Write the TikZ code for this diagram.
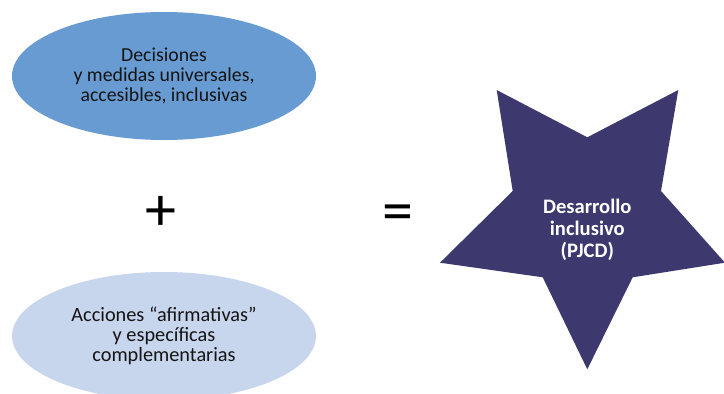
\documentclass[tikz,border=0pt]{standalone}
\usepackage{fontspec}
\setmainfont{Carlito}
\definecolor{topblue}{RGB}{104,155,210}
\definecolor{lightblue}{RGB}{199,213,237}
\definecolor{starfill}{RGB}{61,57,110}
\definecolor{txt}{RGB}{20,20,20}
\tikzset{
  ellbox/.style={ellipse, minimum width=304pt, minimum height=128pt, inner sep=0pt, draw=none},
  elltext/.style={text=txt, align=center, font=\fontsize{19.8}{20}\selectfont},
  elltextb/.style={text=txt, align=center, font=\fontsize{20.3}{19.7}\selectfont},
  startext/.style={text=white, align=center, font=\fontsize{20.6}{21.7}\selectfont\bfseries},
  symbol/.style={text=black, font=\fontsize{62}{62}\selectfont, inner sep=0pt}
}
\usetikzlibrary{shapes.geometric}
\begin{document}
\begin{tikzpicture}[x=1pt,y=-1pt]
\useasboundingbox (0,0) rectangle (724,394);
\begin{scope}
\clip (0,0) rectangle (724,394);
\node[ellbox, fill=topblue] (top) at (164,76) {};
\node[ellbox, fill=lightblue] (bot) at (164,336) {};
\end{scope}
\node[elltext] (toptext) at (164,76) {Decisiones\\y medidas universales,\\accesibles, inclusivas};
\node[elltextb] (bottext) at (164,336) {Acciones “afirmativas”\\y específicas\\complementarias};
\fill[starfill] (496.7,90) -- (587.3,137.3) -- (678.3,90) -- (661,191) -- (725,262.7) -- (632.7,277.3) -- (587.3,369.3) -- (542.7,277.3) -- (440,262.7) -- (512.7,191) -- cycle;
\node[startext] (star) at (587.3,230) {Desarrollo\\inclusivo\\(PJCD)};
\node[symbol] (plus) at (160.5,213) {+};
\node[symbol] (eq) at (398,218.5) {=};
\end{tikzpicture}
\end{document}
